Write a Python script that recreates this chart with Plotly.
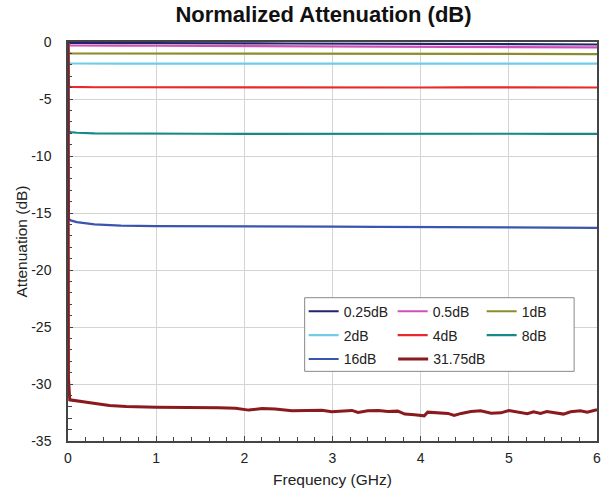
import plotly.graph_objects as go

# ---------------- data ----------------
series_names = ["0.25dB", "0.5dB", "1dB", "2dB", "4dB", "8dB", "16dB", "31.75dB"]
series_colors = ["#23236e", "#d050b8", "#8c8c2a", "#6fcde8", "#e8282a", "#168a8a", "#3a55b0", "#8b1a1e"]

freq_ghz = [0, 0.01, 0.03, 0.1, 0.3, 0.6, 1.0, 1.5, 2.0, 2.5, 3.0, 3.5, 4.0, 4.5, 5.0, 5.5, 6.0]

att_025 = [-0.05, -0.07, -0.08, -0.08, -0.09, -0.1, -0.1, -0.11, -0.12, -0.13, -0.14, -0.15, -0.16, -0.17, -0.18, -0.2, -0.22]
att_05 = [-0.1, -0.28, -0.29, -0.3, -0.31, -0.32, -0.33, -0.34, -0.36, -0.37, -0.38, -0.4, -0.41, -0.42, -0.43, -0.45, -0.47]
att_1 = [-0.1, -0.98, -1.0, -1.0, -1.01, -1.01, -1.02, -1.02, -1.03, -1.03, -1.04, -1.04, -1.04, -1.05, -1.05, -1.05, -1.06]
att_2 = [-0.1, -1.85, -1.88, -1.89, -1.9, -1.9, -1.9, -1.9, -1.9, -1.9, -1.9, -1.9, -1.9, -1.9, -1.9, -1.9, -1.9]
att_4 = [-0.1, -3.9, -3.94, -3.96, -3.97, -3.97, -3.98, -3.98, -3.99, -4.0, -4.0, -4.0, -3.99, -3.98, -3.98, -3.99, -3.99]
att_8 = [-0.1, -7.85, -7.9, -7.96, -8.02, -8.04, -8.05, -8.05, -8.06, -8.05, -8.05, -8.06, -8.05, -8.05, -8.05, -8.06, -8.06]
att_16 = [-0.1, -15.5, -15.65, -15.8, -16.0, -16.1, -16.15, -16.15, -16.18, -16.2, -16.2, -16.22, -16.25, -16.25, -16.25, -16.28, -16.3]

freq_3175 = [0, 0.005, 0.02, 0.135, 0.29, 0.47, 0.66, 1.0, 1.41, 1.71,
             1.9, 2.05, 2.2, 2.35, 2.54, 2.73, 2.88, 2.99, 3.1, 3.22,
             3.29, 3.4, 3.52, 3.63, 3.74, 3.82, 3.93, 4.04, 4.08, 4.2,
             4.31, 4.38, 4.46, 4.57, 4.68, 4.8, 4.91, 5.0, 5.09, 5.21,
             5.28, 5.36, 5.43, 5.55, 5.62, 5.7, 5.81, 5.89, 5.96, 6.0]
att_3175 = [-0.1, -29.5, -31.39, -31.54, -31.68, -31.89, -31.97, -32.03, -32.03, -32.09,
            -32.12, -32.29, -32.15, -32.2, -32.35, -32.35, -32.3, -32.44, -32.41, -32.32,
            -32.5, -32.35, -32.32, -32.41, -32.38, -32.64, -32.7, -32.79, -32.47, -32.5,
            -32.58, -32.76, -32.58, -32.41, -32.35, -32.56, -32.53, -32.32, -32.44, -32.61,
            -32.44, -32.58, -32.41, -32.53, -32.64, -32.44, -32.35, -32.47, -32.35, -32.26]

x_ticks = [0, 1, 2, 3, 4, 5, 6]
y_ticks = [0, -5, -10, -15, -20, -25, -30, -35]

series_x = [freq_ghz] * 7 + [freq_3175]
series_y = [att_025, att_05, att_1, att_2, att_4, att_8, att_16, att_3175]
legend_slots = ["legend", "legend", "legend", "legend2", "legend2", "legend2", "legend3", "legend4"]

FONT = "Liberation Sans, Arial, sans-serif"

fig = go.Figure()
for i, name in enumerate(series_names):
    fig.add_trace(go.Scatter(
        x=series_x[i], y=series_y[i], mode="lines", name=name,
        line=dict(color=series_colors[i], width=3 if name == "31.75dB" else 2.2),
        legend=legend_slots[i],
    ))

W, H = 613, 498
L, R, T, B = 68, 13, 42, 55
pw, ph = W - L - R, H - T - B

def px_x(sx):
    return (sx - L) / pw

def px_y(sy):
    return (H - B - sy) / ph

leg_common = dict(
    orientation="h", xanchor="left", yanchor="middle",
    bgcolor="rgba(0,0,0,0)", borderwidth=0,
    font=dict(family=FONT, size=14, color="#222"),
    tracegroupgap=0, itemwidth=30,
)

fig.update_layout(
    width=W, height=H,
    margin=dict(l=L, r=R, t=T, b=B, pad=0),
    paper_bgcolor="white", plot_bgcolor="white",
    font=dict(family=FONT, size=14, color="#222"),
    title=dict(text="<b>Normalized Attenuation (dB)</b>", xref="container", x=323.5 / W,
               xanchor="center", yref="container", y=1 - 14 / H, yanchor="middle",
               font=dict(family=FONT, size=22, color="#111")),
    legend=dict(x=px_x(305), y=px_y(313), entrywidth=44, entrywidthmode="pixels", **leg_common),
    legend2=dict(x=px_x(305), y=px_y(337), entrywidth=44, entrywidthmode="pixels", **leg_common),
    legend3=dict(x=px_x(305), y=px_y(361), **leg_common),
    legend4=dict(x=px_x(395), y=px_y(361), **leg_common),
    shapes=[dict(type="rect", xref="paper", yref="paper",
                 x0=px_x(306), x1=px_x(577), y0=px_y(373), y1=px_y(299),
                 line=dict(color="#888", width=1), fillcolor="white", layer="above")],
    showlegend=True,
)

fig.update_xaxes(
    range=[0, 6], tickvals=x_ticks, ticktext=[str(v) for v in x_ticks],
    showgrid=True, gridcolor="#d4d4d4", gridwidth=1,
    showline=True, linecolor="#444", linewidth=1.5, mirror=True,
    ticks="inside", ticklen=5, tickcolor="#444", ticklabelstandoff=3,
    minor=dict(dtick=0.2, ticks="inside", ticklen=4, tickcolor="#444", showgrid=False),
    zeroline=False,
    tickfont=dict(family=FONT, size=14, color="#222"),
    title=dict(text="Frequency (GHz)", font=dict(family=FONT, size=15.5, color="#222"), standoff=10),
)
fig.update_yaxes(
    range=[-35, 0], tickvals=y_ticks, ticktext=[str(v) for v in y_ticks],
    showgrid=True, gridcolor="#d4d4d4", gridwidth=1,
    showline=True, linecolor="#444", linewidth=1.5, mirror=True,
    ticks="inside", ticklen=5, tickcolor="#444", ticklabelstandoff=12,
    minor=dict(dtick=1, ticks="inside", ticklen=4, tickcolor="#444", showgrid=False),
    zeroline=False,
    tickfont=dict(family=FONT, size=14, color="#222"),
    title=dict(text="Attenuation (dB)", font=dict(family=FONT, size=15.5, color="#222"), standoff=0),
)

# remove the browser's default 8px page margin so the figure fills the window exactly
fig.write_html("out.html", config={"displayModeBar": False},
               post_script="document.body.style.margin='0';")
